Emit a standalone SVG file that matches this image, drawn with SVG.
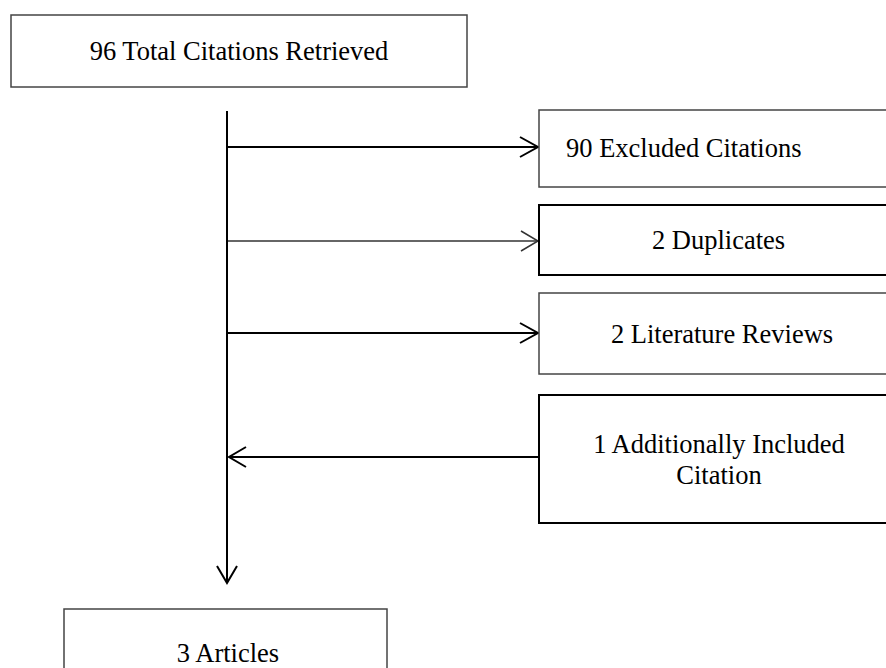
<svg xmlns="http://www.w3.org/2000/svg" width="886" height="668" viewBox="0 0 886 668">
<style>
.box{fill:#fff;stroke:#444;stroke-width:1.5}
.boxb{fill:#fff;stroke:#000;stroke-width:2}
.t{font-family:"Liberation Serif","Times New Roman",serif;font-size:26.5px;fill:#000}
.c{text-anchor:middle}
.ln{stroke:#000;stroke-width:2;fill:none}
.lg{stroke:#333;stroke-width:1.5;fill:none}
</style>
<rect width="886" height="668" fill="#fff"/>
<g id="connectors">
<path class="ln" d="M227,111 V583"/>
<path class="ln" d="M217,566 L227,583 L237,566"/>
<path class="ln" d="M228,147 H538"/>
<path class="ln" d="M520,137 L538,147 L520,157"/>
<path class="lg" d="M228,241 H538"/>
<path class="lg" d="M521,231 L538,241 L521,251"/>
<path class="ln" d="M228,333 H538"/>
<path class="ln" d="M520,323 L538,333 L520,343"/>
<path class="ln" d="M539,457 H229"/>
<path class="ln" d="M246,447 L229,457 L246,467"/>
</g>
<g id="n1"><rect class="box" x="11" y="15" width="456" height="72"/><text class="t c" x="239" y="60">96 Total Citations Retrieved</text></g>
<g id="n2"><rect class="box" x="539" y="110" width="360" height="77"/><text class="t" x="566" y="157">90 Excluded Citations</text></g>
<g id="n3"><rect class="boxb" x="539" y="205" width="360" height="70"/><text class="t c" x="718.5" y="249">2 Duplicates</text></g>
<g id="n4"><rect class="box" x="539" y="293" width="360" height="81"/><text class="t c" x="722" y="343">2 Literature Reviews</text></g>
<g id="n5"><rect class="boxb" x="539" y="395" width="360" height="128"/><text class="t c" x="719" y="453">1 Additionally Included</text><text class="t c" x="719" y="484">Citation</text></g>
<g id="n6"><rect class="box" x="64" y="609" width="323" height="80"/><text class="t c" x="228" y="662">3 Articles</text></g>
</svg>
